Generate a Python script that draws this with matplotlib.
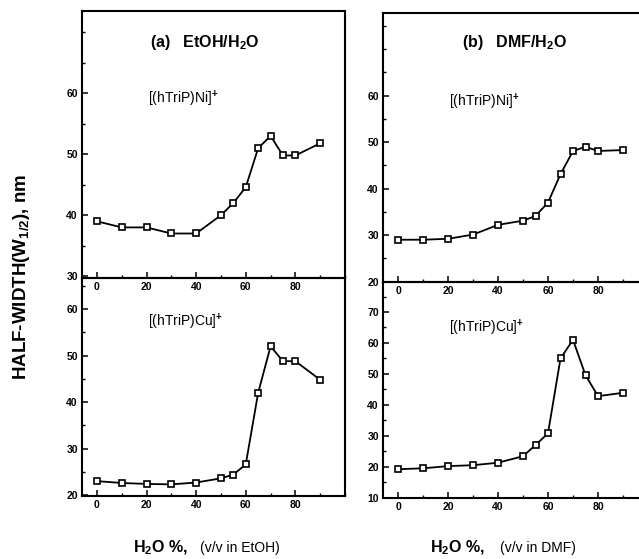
import matplotlib
matplotlib.use('Agg')
import matplotlib.pyplot as plt
from matplotlib.ticker import MultipleLocator

plt.rcParams['font.family'] = ['Liberation Sans', 'DejaVu Sans']
plt.rcParams['mathtext.fontset'] = 'custom'
plt.rcParams['mathtext.rm'] = 'Liberation Sans'
plt.rcParams['mathtext.bf'] = 'Liberation Sans:bold'

# H2O content (% v/v)
water = [0, 10, 20, 30, 40, 50, 55, 60, 65, 70, 75, 80, 90]

# half-width W1/2 (nm)
ni_etoh = [39, 38, 38, 37, 37, 40, 42, 44.6, 51, 53, 49.8, 49.8, 51.8]
cu_etoh = [23, 22.6, 22.4, 22.3, 22.7, 23.6, 24.4, 26.6, 42, 52, 48.8, 48.8, 44.8]
ni_dmf = [29, 29, 29.2, 30.1, 32.2, 33.1, 34.1, 37, 43.1, 48.1, 49, 48.1, 48.3]
cu_dmf = [19.2, 19.5, 20.2, 20.5, 21.3, 23.4, 27, 30.8, 55, 61, 49.6, 42.8, 43.9]

xticklabels = [0, 20, 40, 60, 80]

W, H = 639, 559
fig = plt.figure(figsize=(W / 100, H / 100), dpi=100)


def box(l, t, r, b):
    return [l / W, (H - b) / H, (r - l) / W, (b - t) / H]


def panel(rect, y, ylim, yticks, label, ly):
    ax = fig.add_axes(rect)
    ax.set_facecolor('none')
    ax.plot(water, y, color='black', lw=1.3, marker='s', ms=4.3,
            mfc='white', mec='black', mew=1.2, clip_on=False)
    ax.set_xlim(-6, 100)
    ax.set_ylim(*ylim)
    ax.xaxis.set_minor_locator(MultipleLocator(10))
    ax.set_xticks(xticklabels)
    ax.yaxis.set_minor_locator(MultipleLocator(5))
    ax.set_yticks(yticks)
    ax.tick_params(which='both', direction='in', top=False, right=False,
                   labelsize=7.5, pad=3)
    ax.tick_params(which='major', length=4, width=1.1)
    ax.tick_params(which='minor', length=2.5, width=1.0)
    for t in ax.get_xticklabels() + ax.get_yticklabels():
        t.set_fontweight('bold')
    for s in ax.spines.values():
        s.set_linewidth(1.5)
    ax.text(0.25, ly, label, transform=ax.transAxes, fontsize=10,
            ha='left', va='center')
    return ax


# bottom panels first so the top panels' tick labels stay visible
panel(box(82, 278, 345, 496), cu_etoh, (19.8, 66.7), [20, 30, 40, 50, 60],
      r'[(hTriP)Cu]$^{\mathbf{+}}$', 0.80)
panel(box(383, 282, 648, 498), cu_dmf, (9.9, 79.7), [10, 20, 30, 40, 50, 60, 70],
      r'[(hTriP)Cu]$^{\mathbf{+}}$', 0.79)
panel(box(82, 11, 345, 278), ni_etoh, (29.7, 73.5), [30, 40, 50, 60],
      r'[(hTriP)Ni]$^{\mathbf{+}}$', 0.67)
panel(box(383, 13, 648, 282), ni_dmf, (19.9, 77.8), [20, 30, 40, 50, 60],
      r'[(hTriP)Ni]$^{\mathbf{+}}$', 0.67)

fig.text(205 / W, 1 - 42 / H, r'(a)   EtOH/H$_\mathbf{2}$O', fontsize=11.5,
         fontweight='bold', ha='center', va='center')
fig.text(515 / W, 1 - 42 / H, r'(b)   DMF/H$_\mathbf{2}$O', fontsize=11.5,
         fontweight='bold', ha='center', va='center')

fig.text(22 / W, 1 - 277 / H, r'HALF-WIDTH(W$_{\mathbf{1/2}}$), nm', fontsize=13.5,
         fontweight='bold', rotation=90, ha='center', va='center')

fig.text(133 / W, 1 - 548 / H, r'H$_\mathbf{2}$O %,', fontsize=11.5,
         fontweight='bold', ha='left', va='center')
fig.text(200 / W, 1 - 548 / H, '(v/v in EtOH)', fontsize=10,
         ha='left', va='center')
fig.text(430 / W, 1 - 548 / H, r'H$_\mathbf{2}$O %,', fontsize=11.5,
         fontweight='bold', ha='left', va='center')
fig.text(500 / W, 1 - 548 / H, '(v/v in DMF)', fontsize=10,
         ha='left', va='center')

fig.savefig('out.png', dpi=100)
